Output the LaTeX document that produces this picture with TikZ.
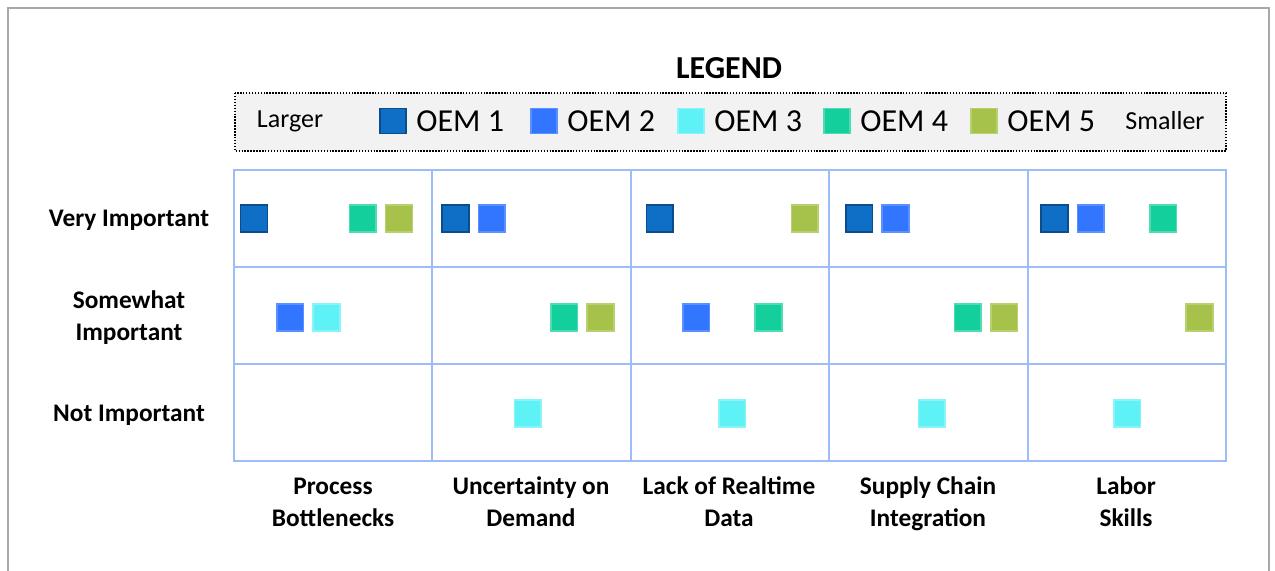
\documentclass[tikz,border=0pt]{standalone}
\usepackage{fontspec}
\setmainfont{Carlito}
\usetikzlibrary{positioning}

\definecolor{oem1}{HTML}{0F6FC6}
\definecolor{oem2}{HTML}{3276FF}
\definecolor{oem3}{HTML}{5EF2F6}
\definecolor{oem4}{HTML}{12CF9B}
\definecolor{oem5}{HTML}{A6C24A}
\definecolor{edge1}{HTML}{0A4C8C}
\definecolor{edge2}{HTML}{5A90FF}
\definecolor{edge3}{HTML}{8AF5F8}
\definecolor{edge4}{HTML}{4FDCB3}
\definecolor{edge5}{HTML}{B9D06F}
\definecolor{gridblue}{HTML}{9DBDF8}
\definecolor{framegray}{HTML}{A8A8A8}
\definecolor{legendfill}{HTML}{F2F2F2}

\tikzset{
  oembox/.style={rectangle, inner sep=0pt, minimum width=20pt, minimum height=20pt,
    fill=oem#1, draw=edge#1, line width=1.2pt},
  legbox/.style={rectangle, inner sep=0pt, minimum width=19.5pt, minimum height=19pt,
    fill=oem#1, draw=edge#1, line width=1.2pt},
  legtext/.style={inner sep=0pt, font=\fontsize{24}{28}\selectfont},
  sidetext/.style={inner sep=0pt, font=\fontsize{19.5}{23}\selectfont},
  rowlabel/.style={align=center, inner sep=0pt, font=\bfseries\fontsize{19}{24}\selectfont},
  collabel/.style={align=center, inner sep=0pt, font=\bfseries\fontsize{19}{24}\selectfont},
  gridline/.style={draw=gridblue, line width=2.2pt},
  gridthin/.style={draw=gridblue, line width=1.6pt}
}

\begin{document}
\begin{tikzpicture}[x=0.75pt, y=-0.75pt]
    \useasboundingbox (0,0) rectangle (1275,571);

    % Frame
    \draw[framegray, line width=1.6pt] (8,575) -- (8,8) -- (1269,8) -- (1269,575);

    % Title
    \node[font=\bfseries\fontsize{24}{28}\selectfont] (legendtitle) at (729,68) {LEGEND};

    % Legend
    \draw[fill=legendfill, line width=1.1pt, dash pattern=on 1.1pt off 1.1pt] (235,93) rectangle (1226,151);
    \node[sidetext] (larger) at (290,121) {Larger};
    \node[sidetext] (smaller) at (1165,121) {Smaller};
    \foreach \k/\x in {1/393, 2/544, 3/691, 4/837, 5/984} {
        \node[legbox=\k] (leg\k) at (\x,121) {};
        \node[legtext, right=7pt of leg\k] (legtxt\k) {OEM \k};
    }

    % Grid
    \foreach \x in {432.4, 630.8, 829.2, 1027.6}
        \draw[gridthin] (\x,170) -- (\x,461);
    \draw[gridline] (234,267) -- (1226,267);
    \draw[gridthin] (234,364) -- (1226,364);
    \draw[gridline] (234,170) rectangle (1226,461);

    % Rows
    \node[rowlabel, anchor=base] (rowvery) at (129,226) {Very Important};
    \node[rowlabel] (rowsome) at (129,318) {\strut Somewhat\\\strut Important};
    \node[rowlabel, anchor=base] (rownot) at (129,421) {Not Important};

    % Columns
    \node[collabel] (colproc) at (333,504) {\strut Process\\\strut Bottlenecks};
    \node[collabel] (coldem) at (531,504) {\strut Uncertainty on\\\strut Demand};
    \node[collabel] (coldata) at (729,504) {\strut Lack of Realtime\\\strut Data};
    \node[collabel] (colsupply) at (928,504) {\strut Supply Chain\\\strut Integration};
    \node[collabel] (collabor) at (1126,504) {\strut Labor\\\strut Skills};

    % Ratings per OEM: row/column/OEM
    \foreach \r/\c/\k in {1/1/1, 1/1/4, 1/1/5, 1/2/1, 1/2/2, 1/3/1, 1/3/5, 1/4/1, 1/4/2,
                          1/5/1, 1/5/2, 1/5/4,
                          2/1/2, 2/1/3, 2/2/4, 2/2/5, 2/3/2, 2/3/4, 2/4/4, 2/4/5, 2/5/5,
                          3/2/3, 3/3/3, 3/4/3, 3/5/3} {
        \pgfmathsetmacro\off{{6,9,15,16,13}[\c-1]}
        \pgfmathsetmacro\yc{{218.5,317.5,413.5}[\r-1]}
        \node[oembox=\k] (sq\r\c\k) at ({234+198.4*(\c-1)+\off+14+36.25*(\k-1)},\yc) {};
    }

\end{tikzpicture}
\end{document}
